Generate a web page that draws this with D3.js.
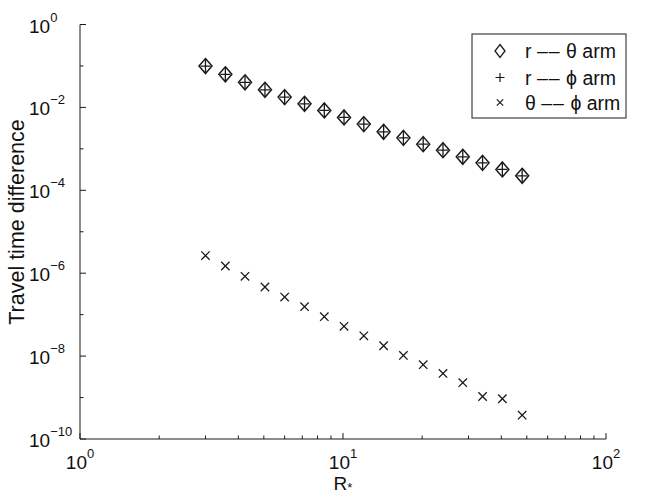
<!DOCTYPE html>
<html>
<head>
<meta charset="utf-8">
<script src="https://cdn.jsdelivr.net/npm/d3@7"></script>
<style>
  html, body { margin: 0; padding: 0; background: #fff; }
  svg { display: block; font-family: "Liberation Sans", Arial, Helvetica, sans-serif; }
</style>
</head>
<body>
<svg id="chart" width="654" height="495"></svg>
<script>
// ---- data ----
const radius = [3, 3.57, 4.24, 5.05, 6, 7.14, 8.49, 10.09, 12, 14.27, 16.97, 20.18, 24, 28.54, 33.94, 40.36, 48];
const rTheta = [0.0995, 0.0627, 0.0402, 0.0266, 0.0177, 0.0122, 0.00847, 0.00573, 0.00395, 0.00257, 0.00184, 0.00130, 0.000931, 0.000641, 0.000459, 0.000318, 0.000223];
const rPhi   = [0.0995, 0.0627, 0.0402, 0.0266, 0.0177, 0.0122, 0.00847, 0.00573, 0.00395, 0.00257, 0.00184, 0.00130, 0.000931, 0.000641, 0.000459, 0.000318, 0.000223];
const thetaPhi = [2.66e-6, 1.49e-6, 8.4e-7, 4.64e-7, 2.66e-7, 1.56e-7, 8.95e-8, 5.22e-8, 3.08e-8, 1.78e-8, 1.04e-8, 6.2e-9, 3.82e-9, 2.28e-9, 1.06e-9, 9.35e-10, 3.76e-10];
const xTickExps = [0, 1, 2];
const yTickExps = [0, -2, -4, -6, -8, -10];
const legendParts = [["r", "\u03B8 arm"], ["r", "\u03D5 arm"], ["\u03B8", "\u03D5 arm"]];
const legendDash = "\u2013\u2013";
const xLabel = "R";
const xLabelSub = "*";
const yLabel = "Travel time difference";

(function () {
// ---- layout ----
const svg = d3.select("#chart");
const pLeft = 80, pRight = 606, pTop = 24.5, pBottom = 439;
const x = d3.scaleLog().domain([1, 100]).range([pLeft, pRight]);
const y = d3.scaleLog().domain([1e-10, 1]).range([pBottom, pTop]);
const ink = "#1a1a1a";

// axes lines
svg.append("line").attr("x1", pLeft).attr("x2", pLeft).attr("y1", pTop).attr("y2", pBottom)
  .attr("stroke", ink).attr("stroke-width", 1);
svg.append("line").attr("x1", pLeft).attr("x2", pRight).attr("y1", pBottom).attr("y2", pBottom)
  .attr("stroke", ink).attr("stroke-width", 1);

// x ticks (inside, pointing up)
const xMinor = [];
[1, 10].forEach(d => { for (let k = 2; k <= 9; k++) xMinor.push(d * k); });
svg.selectAll(".xminor").data(xMinor).enter().append("line")
  .attr("x1", d => x(d)).attr("x2", d => x(d)).attr("y1", pBottom).attr("y2", pBottom - 3.5)
  .attr("stroke", ink);
svg.selectAll(".xmajor").data(xTickExps).enter().append("line")
  .attr("x1", d => x(Math.pow(10, d))).attr("x2", d => x(Math.pow(10, d)))
  .attr("y1", pBottom).attr("y2", pBottom - 6).attr("stroke", ink);

// y ticks (inside, pointing right)
const yMinorExps = [-1, -3, -5, -7, -9];
svg.selectAll(".yminor").data(yMinorExps).enter().append("line")
  .attr("x1", pLeft).attr("x2", pLeft + 3.5)
  .attr("y1", d => y(Math.pow(10, d))).attr("y2", d => y(Math.pow(10, d))).attr("stroke", ink);
svg.selectAll(".ymajor").data(yTickExps).enter().append("line")
  .attr("x1", pLeft).attr("x2", pLeft + 6)
  .attr("y1", d => y(Math.pow(10, d))).attr("y2", d => y(Math.pow(10, d))).attr("stroke", ink);

const fmtExp = e => (e < 0 ? "\u2212" + (-e) : String(e));

// x tick labels
const xt = svg.selectAll(".xtl").data(xTickExps).enter().append("text")
  .attr("x", d => x(Math.pow(10, d)))
  .attr("y", pBottom + 30)
  .attr("text-anchor", "middle")
  .attr("font-size", 19).attr("fill", "#111");
xt.append("tspan").text("10");
xt.append("tspan").attr("dy", -11).attr("font-size", 13).text(d => fmtExp(d));

// y tick labels
const yt = svg.selectAll(".ytl").data(yTickExps).enter().append("text")
  .attr("x", 29)
  .attr("y", d => y(Math.pow(10, d)) + 8)
  .attr("text-anchor", "start")
  .attr("font-size", 19).attr("fill", "#111");
yt.append("tspan").text("10");
yt.append("tspan").attr("dy", -11).attr("font-size", 13).text(d => fmtExp(d));

// axis labels
const xl = svg.append("text").attr("x", x(10)).attr("y", 490)
  .attr("text-anchor", "middle").attr("font-size", 19).attr("fill", "#111");
xl.append("tspan").text(xLabel);
xl.append("tspan").attr("dy", 1.5).attr("font-size", 13).text(xLabelSub);

svg.append("text")
  .attr("transform", `translate(24, 222) rotate(-90)`)
  .attr("text-anchor", "middle").attr("font-size", 21.5).attr("fill", "#111")
  .text(yLabel);

// ---- markers ----
function diamondPath(cx, cy, hw, hh) {
  return `M${cx},${cy - hh}L${cx + hw},${cy}L${cx},${cy + hh}L${cx - hw},${cy}Z`;
}
function plusPath(cx, cy, hw, hh) {
  return `M${cx - hw},${cy}L${cx + hw},${cy}M${cx},${cy - hh}L${cx},${cy + hh}`;
}
function crossPath(cx, cy, h) {
  return `M${cx - h},${cy - h}L${cx + h},${cy + h}M${cx - h},${cy + h}L${cx + h},${cy - h}`;
}

const g = svg.append("g");
g.selectAll(".dia").data(radius.map((r, i) => [r, rTheta[i]])).enter().append("path")
  .attr("d", d => diamondPath(x(d[0]), y(d[1]), 6.5, 7.5))
  .attr("fill", "none").attr("stroke", ink).attr("stroke-width", 1.5).attr("stroke-linejoin", "miter");
g.selectAll(".plus").data(radius.map((r, i) => [r, rPhi[i]])).enter().append("path")
  .attr("d", d => plusPath(x(d[0]), y(d[1]), 5, 7))
  .attr("fill", "none").attr("stroke", ink).attr("stroke-width", 1.3);
g.selectAll(".cross").data(radius.map((r, i) => [r, thetaPhi[i]])).enter().append("path")
  .attr("d", d => crossPath(x(d[0]), y(d[1]), 4.2))
  .attr("fill", "none").attr("stroke", ink).attr("stroke-width", 1.3);

// ---- legend ----
const lg = svg.append("g");
lg.append("rect").attr("x", 472).attr("y", 34).attr("width", 154).attr("height", 84)
  .attr("fill", "#fff").attr("stroke", ink).attr("stroke-width", 1);
const rows = [51, 77.5, 102.5];
lg.append("path").attr("d", diamondPath(500, rows[0], 5, 6.5))
  .attr("fill", "none").attr("stroke", ink).attr("stroke-width", 1.3);
lg.append("path").attr("d", plusPath(500, rows[1], 4.5, 4.5))
  .attr("fill", "none").attr("stroke", ink).attr("stroke-width", 1.2);
lg.append("path").attr("d", crossPath(500, rows[2], 3.2))
  .attr("fill", "none").attr("stroke", ink).attr("stroke-width", 1.2);
const lt = lg.selectAll(".lt").data(legendParts).enter().append("text")
  .attr("x", 525).attr("y", (d, i) => rows[i] + 7)
  .attr("font-size", 19.5).attr("fill", "#111");
lt.append("tspan").text(d => d[0] + " ");
lt.append("tspan").attr("letter-spacing", 1).text(legendDash);
lt.append("tspan").text(d => " " + d[1]);
})();
</script>
</body>
</html>
